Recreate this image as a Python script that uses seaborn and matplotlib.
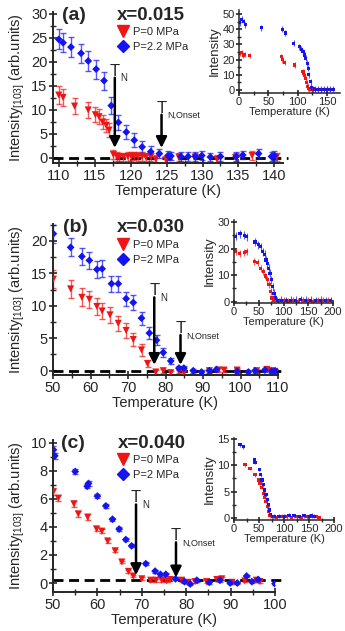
import matplotlib
matplotlib.use('Agg')
import matplotlib.pyplot as plt
from matplotlib.lines import Line2D
from matplotlib.ticker import MultipleLocator
import seaborn as sns
import pandas as pd

RED = '#f01414'
BLUE = '#1414f0'

# ---- panel (a), x = 0.015 ----
ta_r = [110.0, 110.6, 112.2, 114.1, 115.1, 115.6, 116.1, 116.6, 117.0, 117.6, 118.1, 118.4, 119.0, 119.6,
        120.1, 120.5, 121.0, 121.6, 122.1, 122.8, 123.5, 124.9, 126.7, 129.0, 132.0, 134.6, 136.9, 140.3]
ia_r = [13.1, 12.6, 10.8, 10.0, 9.0, 8.6, 7.5, 6.8, 5.8, 0.7, 0.3, 0.2, 0.2, 0.3,
        0.3, 0.4, 0.3, 0.3, 0.2, 0.2, -0.3, -0.4, 0.2, 0.1, -0.3, 0.1, 0.5, 0.2]
ea_r = [1.8, 1.8, 1.7, 1.6, 1.6, 1.5, 1.5, 1.4, 1.4, 1.0, 0.9, 0.9, 0.9, 0.9,
        0.9, 0.9, 0.9, 0.9, 0.9, 0.9, 0.9, 0.9, 0.9, 0.9, 0.9, 0.9, 0.9, 0.9]
ta_b = [110.0, 110.6, 111.7, 113.1, 114.1, 115.2, 116.3, 117.3, 118.3, 119.4, 120.5, 121.6, 122.8, 124.0,
        125.2, 125.6, 127.0, 128.0, 129.0, 129.9, 131.1, 132.5, 134.7, 135.6, 137.8, 139.6, 140.0]
ia_b = [24.7, 24.0, 23.1, 21.8, 20.2, 18.5, 16.1, 10.9, 7.4, 5.4, 3.7, 2.3, 1.3, 0.9,
        0.5, 0.4, 0.3, 0.3, 0.3, 0.5, 0.2, 0.3, 0.3, 0.6, 0.9, 0.3, 0.5]
ea_b = [2.1, 2.0, 2.0, 2.0, 2.0, 2.0, 1.9, 1.8, 1.6, 1.5, 1.4, 1.2, 1.1, 1.0,
        1.0, 0.9, 0.9, 0.9, 0.9, 0.9, 0.9, 0.9, 0.9, 0.9, 0.9, 0.9, 0.9]
tia_r = [1, 5, 7.6, 10, 18, 72, 74, 78, 95, 109, 110.5, 112, 113.7, 115.5, 117, 118, 120, 125, 130, 135,
         140, 145, 150, 155]
iia_r = [24.1, 24.8, 23.0, 23.5, 22.5, 21.8, 19.8, 18.2, 16.4, 12.3, 11.0, 9.6, 7.5, 5.0, 2.5, 0.8, 0.3, 0.4,
         0.3, 0.2, 0.4, 0.2, 0.5, 0.3]
tia_b = [1, 5, 8, 11, 38, 74, 79, 93, 103, 106, 109, 112, 114, 116, 118, 119, 122, 123, 126, 130, 135,
         140, 145, 150, 155, 160]
iia_b = [44.3, 46.5, 45.0, 43.0, 41.0, 40.0, 37.5, 30.7, 28.5, 26.8, 25.2, 23.0, 20.8, 17.5, 14.3, 9.9,
         5.5, 1.8, 0.6, 0.4, 0.3, 0.3, 0.4, 0.3, 0.5, 0.3]
tn_a, tno_a = 117.8, 124.3

# ---- panel (b), x = 0.030 ----
tb_r = [50.1, 54.7, 57.7, 59.7, 61.7, 63.1, 65.2, 67.4, 69.5, 71.4, 73.6, 75.2, 77.4, 79.4, 81.4, 83.6,
        84.9, 91.7, 94.1, 95.6, 99.1, 104.3, 107.0, 108.0, 109.2]
ib_r = [14.1, 12.6, 11.3, 11.0, 9.9, 9.2, 8.6, 7.3, 6.2, 4.8, 3.2, 1.1, -0.2, 0.0, -0.3, -0.1,
        -0.3, 0.0, 0.1, 0.1, 0.1, 0.0, 0.2, 0.0, -0.1]
eb_r = [1.4, 1.4, 1.4, 1.3, 1.3, 1.3, 1.2, 1.2, 1.1, 1.0, 0.9, 0.6, 0.3, 0.3, 0.3, 0.3,
        0.3, 0.3, 0.3, 0.3, 0.3, 0.3, 0.3, 0.3, 0.3]
tb_b = [50.1, 54.7, 57.7, 59.7, 61.7, 63.1, 65.6, 67.4, 69.5, 71.4, 73.6, 75.7, 77.6, 79.4, 81.4, 83.6,
        84.9, 87.4, 89.6, 91.7, 93.6, 99.1, 102.1, 103.9, 106.5, 108.3, 109.2]
ib_b = [21.1, 19.0, 17.6, 17.0, 15.6, 15.7, 13.4, 13.4, 11.1, 10.5, 8.1, 5.8, 4.7, 2.8, 1.5, 0.4,
        0.4, 0.0, -0.2, 0.0, 0.2, -0.1, -0.2, 0.0, 0.1, -0.1, 0.0]
eb_b = [1.4, 1.4, 1.3, 1.3, 1.3, 1.3, 1.2, 1.2, 1.1, 1.1, 1.0, 0.9, 0.8, 0.7, 0.5, 0.3,
        0.3, 0.3, 0.3, 0.3, 0.3, 0.3, 0.3, 0.3, 0.3, 0.3, 0.3]
tib_r = [3.4, 12, 20.9, 25.6, 41, 47.9, 54, 59.3, 63.3, 67.3, 70.7, 74.1, 76.8, 80, 90, 100, 110, 120,
         130, 140, 150, 160, 170, 180, 190]
iib_r = [18.9, 18.3, 18.6, 19.0, 15.1, 14.8, 12.6, 11.4, 9.7, 8.2, 6.4, 3.9, 1.4, 0.3, 0.2, 0.3, 0.2,
         0.3, 0.2, 0.4, 0.3, 0.2, 0.3, 0.6, 0.4]
tib_b = [3.4, 12.1, 20.9, 25.6, 42.4, 49, 54, 58, 62, 64.6, 67.3, 70, 72.7, 75.4, 78, 80.8, 83.5, 87.5,
         95, 105, 115, 125, 135, 145, 155, 165, 175, 185, 195]
iib_b = [24.7, 25.7, 25.1, 24.5, 22.5, 21.4, 20.8, 18.9, 17.8, 15.7, 14.5, 12.6, 10.7, 8.2, 5.7, 3.2,
         1.4, 0.3, 0.5, 0.4, 0.5, 0.6, 0.7, 0.6, 0.5, 0.4, 0.6, 0.4, 0.3]
tn_b, tno_b = 77.0, 84.0

# ---- panel (c), x = 0.040 ----
tc_r = [50.1, 51.2, 54.7, 55.7, 57.8, 59.8, 61.0, 62.3, 64.0, 65.5, 67.0, 68.1, 70.0, 72.0, 73.2, 74.5,
        75.6, 76.4, 79.0, 80.5, 82.0, 84.6, 86.9, 88.0, 90.3, 93.2, 95.8, 96.6]
ic_r = [6.5, 6.05, 5.65, 4.93, 4.7, 3.86, 3.7, 3.0, 2.3, 1.5, 0.83, 0.5, 0.3, 0.2, 0.2, 0.2,
        0.15, 0.25, 0.2, 0.05, 0.1, 0.1, 0.25, 0.3, 0.05, 0.15, 0.2, 0.1]
ec_r = [0.25, 0.2, 0.2, 0.2, 0.2, 0.15, 0.15, 0.15, 0.12, 0.1, 0.1, 0.1, 0.1, 0.1, 0.1, 0.1,
        0.1, 0.1, 0.1, 0.1, 0.1, 0.1, 0.1, 0.1, 0.1, 0.1, 0.1, 0.1]
tc_b = [50.1, 50.4, 55.0, 57.7, 58.0, 60.0, 61.9, 63.4, 64.9, 66.4, 67.7, 70.9, 73.0, 74.2, 75.4, 77.6,
        79.6, 80.9, 82.4, 85.2, 87.6, 89.9, 91.5, 93.6, 94.8, 96.2, 100.0]
ic_b = [9.5, 9.07, 7.95, 6.9, 7.1, 6.2, 5.5, 4.55, 3.85, 3.1, 2.65, 1.38, 0.85, 0.62, 0.62, 0.3,
        0.1, -0.07, 0.2, 0.05, 0.2, 0.0, 0.0, 0.5, 0.1, 0.25, -0.05]
ec_b = [0.3, 0.2, 0.15, 0.15, 0.15, 0.15, 0.15, 0.12, 0.12, 0.1, 0.1, 0.1, 0.1, 0.1, 0.1, 0.1,
        0.1, 0.1, 0.1, 0.1, 0.1, 0.1, 0.1, 0.1, 0.1, 0.1, 0.1]
tic_r = [22, 32, 42, 48.7, 52, 55.3, 58.7, 61.3, 64, 66.7, 69.3, 72, 78, 85, 95, 105, 115, 125, 135,
         145, 155, 165, 170]
iic_r = [10.1, 9.4, 8.2, 7.2, 6.6, 5.8, 4.7, 3.9, 3.1, 2.1, 1.2, 0.4, 0.2, 0.1, 0.3, 0.2, 0.1, 0.2,
         0.1, 0.2, 0.3, 0.2, 0.1]
tic_b = [12, 18.7, 40.7, 42, 50.7, 53.3, 56, 58.7, 61.3, 64, 66.7, 69.3, 70.7, 73.3, 80, 90, 100, 110,
         120, 130, 140, 150, 155, 160]
iic_b = [13.9, 13.5, 11.1, 10.6, 9.2, 8.2, 7.2, 6.3, 5.3, 4.4, 3.5, 2.5, 1.5, 0.6, 0.3, 0.3, 0.3, 0.5,
         0.4, 0.2, 0.4, 0.3, 0.5, 0.3]
tn_c, tno_c = 68.7, 77.7

labels_a = ['P=0 MPa', 'P=2.2 MPa']
labels_bc = ['P=0 MPa', 'P=2 MPa']

sns.set_style('ticks')
plt.rcParams['font.family'] = ['Liberation Sans', 'DejaVu Sans']
plt.rcParams['mathtext.default'] = 'regular'

W, H = 345, 631
fig = plt.figure(figsize=(W / 100, H / 100), dpi=100)


def box(left, top, right, bottom):
    return [left / W, 1 - bottom / H, (right - left) / W, (bottom - top) / H]


def series(ax, t, i, err, color, marker, s, cap, elw):
    ax.errorbar(t, i, yerr=err, fmt='none', ecolor=color, elinewidth=elw, capsize=cap,
                capthick=elw, alpha=0.7, zorder=2)
    df = pd.DataFrame({'T': t, 'I': i})
    sns.scatterplot(data=df, x='T', y='I', ax=ax, color=color, marker=marker, s=s,
                    edgecolor='none', linewidth=0, zorder=3, legend=False)


def style(ax, xmaj, xmin, ymaj, ymin, fs, big):
    sns.despine(ax=ax)
    ax.set_facecolor('none')
    for sp in ['left', 'bottom']:
        ax.spines[sp].set_linewidth(1.4 if big else 1.1)
    ax.xaxis.set_major_locator(MultipleLocator(xmaj))
    ax.xaxis.set_minor_locator(MultipleLocator(xmin))
    ax.yaxis.set_major_locator(MultipleLocator(ymaj))
    ax.yaxis.set_minor_locator(MultipleLocator(ymin))
    ax.tick_params(which='major', direction='inout', length=6 if big else 4, width=1.2,
                   labelsize=fs, pad=1)
    ax.tick_params(which='minor', direction='inout', length=4 if big else 3, width=1.0)


def mark(ax, x, top, tip, sub):
    ax.annotate('', xy=(x, tip), xytext=(x, top),
                arrowprops=dict(arrowstyle='-|>', mutation_scale=16, lw=1.8, color='k',
                                shrinkA=0, shrinkB=0))
    ax.annotate('T', xy=(x, top), xytext=(0, 1.5), textcoords='offset points',
                ha='center', va='baseline', fontsize=12)
    ax.annotate(sub, xy=(x, top), xytext=(4.2, -2.5), textcoords='offset points',
                ha='left', va='baseline', fontsize=7 if sub == 'N' else 6.5)


def panel(main_box, xlim, ylim, xt, yt, base, base_end, red, blue, labels, tags,
          marks, leg_px, inset_box, ixlim, iylim, iyt, ired, iblue):
    ax = fig.add_axes(box(*main_box))
    ax.axhline(base, xmin=0, xmax=base_end, color='k', lw=2.0, ls=(0, (3.6, 2.0)),
               clip_on=False, zorder=1)
    series(ax, *red, RED, 'v', 26, 2.2, 1.0)
    series(ax, *blue, BLUE, 'D', 16, 2.2, 1.0)
    ax.set_xlim(*xlim)
    ax.set_ylim(*ylim)
    style(ax, xt[0], xt[1], yt[0], yt[1], 10.5, True)
    ax.set_xlabel('Temperature (K)', fontsize=10.5, labelpad=1)
    ax.set_ylabel('Intensity$_{[103]}$ (arb.units)', fontsize=10.5, labelpad=3)
    for x, top, tip, sub in marks:
        mark(ax, x, top, tip, sub)
    handles = [Line2D([], [], marker='v', color=RED, ls='none', markersize=8),
               Line2D([], [], marker='D', color=BLUE, ls='none', markersize=6.5)]
    ax.legend(handles, labels, loc='upper left', bbox_to_anchor=(leg_px[0] / W, 1 - leg_px[1] / H),
              bbox_transform=fig.transFigure, frameon=False, fontsize=8, handlelength=1.0,
              handletextpad=0.4, labelspacing=0.45, borderpad=0, borderaxespad=0)
    fig.text(tags[0][0] / W, 1 - tags[0][1] / H, tags[0][2], fontsize=14, fontweight='bold',
             ha='center', va='center')
    fig.text(tags[1][0] / W, 1 - tags[1][1] / H, tags[1][2], fontsize=13.5, fontweight='bold',
             ha='center', va='center')

    ins = fig.add_axes(box(*inset_box))
    ins.errorbar(ired[0], ired[1], yerr=ired[2], fmt='none', ecolor=RED, elinewidth=0.8, alpha=0.7)
    ins.errorbar(iblue[0], iblue[1], yerr=iblue[2], fmt='none', ecolor=BLUE, elinewidth=0.8, alpha=0.7)
    sns.scatterplot(x=ired[0], y=ired[1], ax=ins, color=RED, marker='s', s=5, edgecolor='none',
                    linewidth=0, legend=False)
    sns.scatterplot(x=iblue[0], y=iblue[1], ax=ins, color=BLUE, marker='s', s=5, edgecolor='none',
                    linewidth=0, legend=False)
    ins.set_xlim(*ixlim)
    ins.set_ylim(*iylim)
    style(ins, 50, 25, iyt[0], iyt[1], 8, False)
    ins.set_xlabel('Temperature (K)', fontsize=8, labelpad=0)
    ins.set_ylabel('Intensity', fontsize=9.5, labelpad=1)


panel((53, 12, 283, 163), (109.2, 141.2), (-1.05, 30.4), (5, 2.5), (5, 2.5), 0.0, 1.02,
      (ta_r, ia_r, ea_r), (ta_b, ia_b, ea_b), labels_a,
      [(74, 15, '(a)'), (151, 15, 'x=0.015')],
      [(tn_a, 16.7, 2.1, 'N'), (tno_a, 9.0, 2.1, 'N,Onset')], (117, 27),
      (239, 10, 340, 93), (0, 172), (-2, 52.6), (10, 5),
      (tia_r, iia_r, 1.8), (tia_b, iia_b, 2.0))

panel((53, 224, 278, 375), (50, 110), (-0.66, 22.6), (10, 5), (5, 2.5), 0.0, 1.03,
      (tb_r, ib_r, eb_r), (tb_b, ib_b, eb_b), labels_bc,
      [(75, 227, '(b)'), (151, 227, 'x=0.030')],
      [(tn_b, 11.3, 0.9, 'N'), (tno_b, 5.5, 0.9, 'N,Onset')], (117, 240),
      (234, 220, 333, 303), (0, 200), (-0.5, 30.8), (10, 5),
      (tib_r, iib_r, 1.3), (tib_b, iib_b, 1.5))

panel((53, 440, 275, 592), (50, 100), (-0.64, 10.2), (10, 5), (2, 1), 0.2, 1.04,
      (tc_r, ic_r, ec_r), (tc_b, ic_b, ec_b), labels_bc,
      [(73, 443, '(c)'), (152, 443, 'x=0.040')],
      [(tn_c, 5.6, 0.57, 'N'), (tno_c, 2.9, 0.4, 'N,Onset')], (117, 455),
      (234, 438, 334, 520), (0, 200), (-0.4, 15.2), (5, 2.5),
      (tic_r, iic_r, 0.35), (tic_b, iic_b, 0.35))

fig.savefig('out.png', dpi=100)
